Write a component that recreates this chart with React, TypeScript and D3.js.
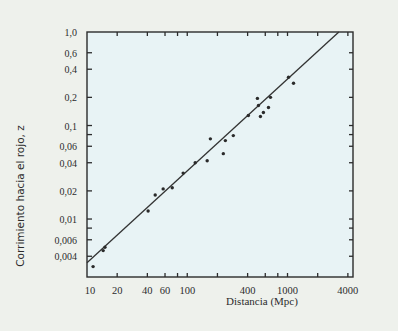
import { useEffect, useRef } from "react";
import { select, scaleLog, line } from "d3";

// distances (Mpc) and redshifts
const distances = [11.5, 14.5, 15.1, 40.7, 47.9, 57.5, 70.8, 91, 120, 158, 170, 229, 240, 288, 407, 501, 513, 537, 575, 646, 676, 1023, 1148];
const redshifts = [0.0031, 0.0046, 0.005, 0.0122, 0.0181, 0.021, 0.0216, 0.031, 0.04, 0.042, 0.072, 0.05, 0.069, 0.078, 0.128, 0.195, 0.164, 0.125, 0.138, 0.156, 0.2, 0.328, 0.283];

// fitted line ends (distance, redshift)
const fitLine: [number, number][] = [
  [10, 0.0034],
  [3250, 1.0],
];

const xTickLabels = [10, 20, 40, 60, 100, 400, 1000, 4000];
const xTickMarks = [20, 40, 60, 80, 100, 200, 400, 600, 800, 1000, 2000, 4000];
const yTickValues = [1, 0.6, 0.4, 0.2, 0.1, 0.06, 0.04, 0.02, 0.01, 0.006, 0.004];
const yTickLabels = ["1,0", "0,6", "0,4", "0,2", "0,1", "0,06", "0,04", "0,02", "0,01", "0,006", "0,004"];
const yTickMarks = [0.6, 0.4, 0.2, 0.1, 0.08, 0.06, 0.04, 0.02, 0.01, 0.008, 0.006, 0.004];

const W = 398;
const H = 331;

const App = () => {
  const ref = useRef<SVGSVGElement>(null);

  useEffect(() => {
    document.body.style.margin = "0";
    if (!ref.current) return;
    const svg = select(ref.current);
    svg.selectAll("*").remove();

    const left = 87, right = 353, top = 32, bottom = 277;
    const x = scaleLog().domain([10, 4500]).range([left, right]);
    const y = scaleLog().domain([0.0024, 1]).range([bottom, top]);

    svg.append("rect").attr("width", W).attr("height", H).attr("fill", "#eef1ec");
    svg
      .append("rect")
      .attr("x", left)
      .attr("y", top)
      .attr("width", right - left)
      .attr("height", bottom - top)
      .attr("fill", "#e8f3f5");

    const ink = "#2c2c2c";
    const font = "'Liberation Serif', serif";

    // frame
    svg
      .append("rect")
      .attr("x", left)
      .attr("y", top)
      .attr("width", right - left)
      .attr("height", bottom - top)
      .attr("fill", "none")
      .attr("stroke", ink)
      .attr("stroke-width", 1.4);

    // x ticks, bottom and top, pointing inward
    xTickMarks.forEach((v) => {
      const px = x(v);
      svg.append("line").attr("x1", px).attr("x2", px).attr("y1", bottom).attr("y2", bottom - 4).attr("stroke", ink).attr("stroke-width", 1.3);
      svg.append("line").attr("x1", px).attr("x2", px).attr("y1", top).attr("y2", top + 4).attr("stroke", ink).attr("stroke-width", 1.3);
    });
    // y ticks, left and right
    yTickMarks.forEach((v) => {
      const py = y(v);
      svg.append("line").attr("x1", left).attr("x2", left + 5).attr("y1", py).attr("y2", py).attr("stroke", ink).attr("stroke-width", 1.3);
      svg.append("line").attr("x1", right).attr("x2", right - 4).attr("y1", py).attr("y2", py).attr("stroke", ink).attr("stroke-width", 1.3);
    });

    // tick labels
    svg
      .selectAll("text.xl")
      .data(xTickLabels)
      .enter()
      .append("text")
      .attr("class", "xl")
      .attr("x", (d) => x(d) + (d === 10 ? 3 : 0))
      .attr("y", bottom + 17)
      .attr("text-anchor", "middle")
      .attr("font-family", font)
      .attr("font-size", 10.5)
      .attr("fill", ink)
      .text((d) => String(d));

    svg
      .selectAll("text.yl")
      .data(yTickValues)
      .enter()
      .append("text")
      .attr("class", "yl")
      .attr("x", left - 10)
      .attr("y", (d) => y(d) + 4)
      .attr("text-anchor", "end")
      .attr("font-family", font)
      .attr("font-size", 10)
      .attr("fill", ink)
      .text((_d, i) => yTickLabels[i]);

    // axis titles
    svg
      .append("text")
      .attr("x", 262)
      .attr("y", 305)
      .attr("text-anchor", "middle")
      .attr("font-family", font)
      .attr("font-size", 11)
      .attr("fill", ink)
      .text("Distancia (Mpc)");
    svg
      .append("text")
      .attr("transform", "translate(24,196) rotate(-90)")
      .attr("text-anchor", "middle")
      .attr("font-family", "'DejaVu Sans', sans-serif")
      .attr("font-size", 10.5)
      .attr("fill", ink)
      .text("Corrimiento hacia el rojo, z");

    // fitted line
    const lineGen = line<[number, number]>()
      .x((d) => x(d[0]))
      .y((d) => y(d[1]));
    svg
      .append("path")
      .datum(fitLine)
      .attr("d", lineGen)
      .attr("fill", "none")
      .attr("stroke", "#333")
      .attr("stroke-width", 1.3);

    // data points
    svg
      .selectAll("circle.pt")
      .data(distances)
      .enter()
      .append("circle")
      .attr("class", "pt")
      .attr("cx", (d) => x(d))
      .attr("cy", (_d, i) => y(redshifts[i]))
      .attr("r", 1.7)
      .attr("fill", "#2a2a2a");
  }, []);

  return <svg ref={ref} width={W} height={H} style={{ display: "block" }} />;
};

export default App;
